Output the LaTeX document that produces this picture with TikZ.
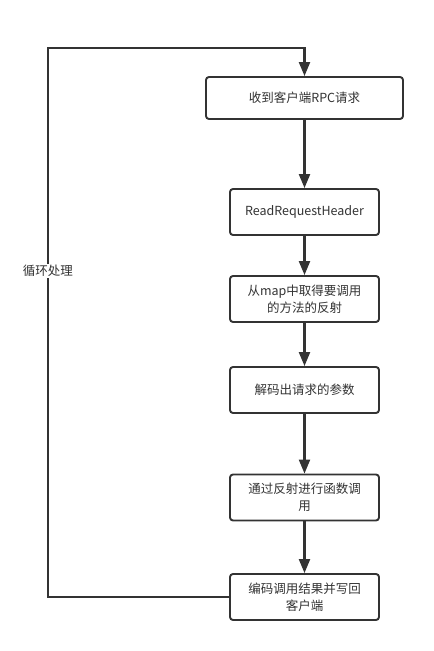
\documentclass[tikz,border=0pt]{standalone}
\usepackage{fontspec}
\setmainfont{Noto Sans CJK SC}
\usetikzlibrary{arrows.meta}

\definecolor{linegray}{HTML}{333333}

\begin{document}
\begin{tikzpicture}[x=1pt,y=-1pt,
  stepbox/.style={draw=linegray,line width=1.9pt,rounded corners=3pt,fill=white,text=linegray,
    minimum width=149pt,minimum height=46pt,align=center,inner sep=2pt,
    font=\fontsize{12.5}{17}\selectfont},
  flow/.style={draw=linegray,line width=2.2pt,-{Triangle[length=14pt,width=11pt]}}]
\useasboundingbox (0,0) rectangle (434,651);

% Boxes
\node[stepbox,minimum width=197pt,minimum height=42pt](recv) at (304.5,98) {收到客户端RPC请求};
\node[stepbox](header) at (304.5,212) {ReadRequestHeader};
\node[stepbox](method) at (304.5,299) {从map中取得要调用\\的方法的反射};
\node[stepbox](params) at (304.5,390) {解码出请求的参数};
\node[stepbox](invoke) at (304.5,497.5) {通过反射进行函数调\\用};
\node[stepbox](reply) at (304.5,597) {编码调用结果并写回\\客户端};

% Flow
\draw[flow] (recv) -- (header);
\draw[flow] (header) -- (method);
\draw[flow] (method) -- (params);
\draw[flow] (params) -- (invoke);
\draw[flow] (invoke) -- (reply);

% Loop back
\coordinate (lb) at (48,597);
\coordinate (lt) at (48,48);
\draw[flow] (reply.west) -- (lb) -- (lt) -- (recv.north |- lt) -- (recv.north);
\node[fill=white,text=linegray,inner sep=1pt,font=\fontsize{12.5}{17}\selectfont](loop) at (48,271) {循环处理};

\end{tikzpicture}
\end{document}
